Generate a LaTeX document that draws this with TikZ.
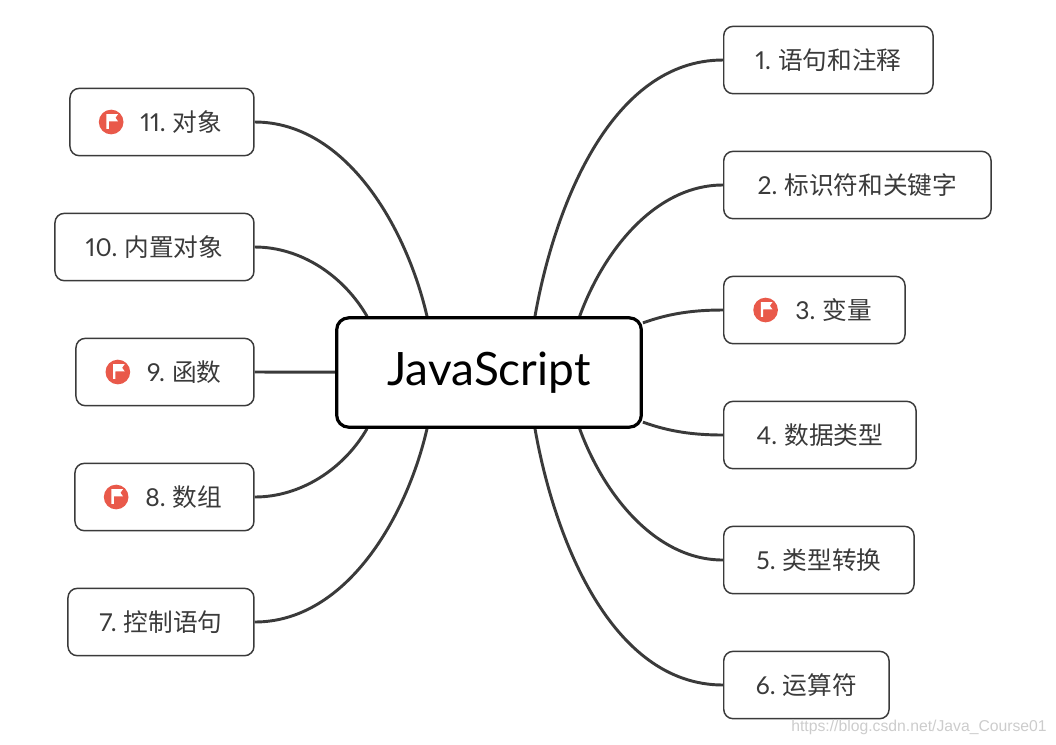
\documentclass[tikz,border=0pt]{standalone}
\usepackage{fontspec}
\setmainfont[Numbers={Proportional,Lining}]{Lato}
\newfontfamily\cjk{Noto Sans CJK SC}
\newfontfamily\urlfont{Liberation Sans}
\usetikzlibrary{positioning, backgrounds}
\definecolor{linegray}{HTML}{3A3A3A}
\definecolor{flagred}{HTML}{E9594A}
\newcommand{\topictext}[2]{#1.\hspace{5.4pt}{\cjk #2}}
\tikzset{
  root/.style={
    rectangle,
    rounded corners=9pt,
    draw=black,
    line width=2.4pt,
    fill=white,
    minimum width=228.5pt,
    minimum height=82pt,
    inner sep=0pt,
    font=\fontsize{34.5}{38}\selectfont
  },
  topic/.style={
    rectangle,
    rounded corners=7pt,
    draw=linegray,
    line width=1.1pt,
    fill=white,
    text=linegray,
    minimum height=50.5pt,
    inner sep=0pt,
    font=\fontsize{18.5}{22}\selectfont
  },
  flagicon/.style={
    circle,
    fill=flagred,
    minimum size=18.5pt,
    inner sep=0pt,
    path picture={
      \fill[white] ([xshift=-3.6pt,yshift=6pt]path picture bounding box.center)
        -- ++(8.8pt,0) -- ++(-2pt,-2.8pt) -- ++(2pt,-2.8pt) -- ++(-7pt,0)
        -- ++(0,-5.6pt) -- ++(-1.8pt,0) -- cycle;
    }
  },
  branch/.style={draw=linegray, line width=2.2pt}
}

\begin{document}
\begin{tikzpicture}[x=0.75pt, y=-0.75pt, node distance=42.15pt]
  \useasboundingbox (0,0) rectangle (1056,744);

  \node[root] (js) at (489,372.5) {\raisebox{-2.6pt}{JavaScript}};

  \node[topic, anchor=west, minimum width=157pt] (n1) at (723,60) {\topictext{1}{语句和注释}};
  \node[topic, below=of n1.south west, anchor=north west, minimum width=200.5pt] (n2) {\topictext{2}{标识符和关键字}};
  \node[topic, below=of n2.south west, anchor=north west, minimum width=136pt] (n3) {\hspace*{29pt}\topictext{3}{变量}};
  \node[topic, below=of n3.south west, anchor=north west, minimum width=144.25pt] (n4) {\topictext{4}{数据类型}};
  \node[topic, below=of n4.south west, anchor=north west, minimum width=142.75pt] (n5) {\topictext{5}{类型转换}};
  \node[topic, below=of n5.south west, anchor=north west, minimum width=124pt] (n6) {\topictext{6}{运算符}};

  \node[topic, anchor=east, minimum width=138pt] (n11) at (254.7,122) {\hspace*{29pt}\topictext{11}{对象}};
  \node[topic, below=of n11.south east, anchor=north east, minimum width=149.25pt] (n10) {\topictext{10}{内置对象}};
  \node[topic, below=of n10.south east, anchor=north east, minimum width=133.5pt] (n9) {\hspace*{29pt}\topictext{9}{函数}};
  \node[topic, below=of n9.south east, anchor=north east, minimum width=134.25pt] (n8) {\hspace*{29pt}\topictext{8}{数组}};
  \node[topic, below=of n8.south east, anchor=north east, minimum width=139.5pt] (n7) {\topictext{7}{控制语句}};

  \node[flagicon, right=22.5pt of n3.west] (f3) {};
  \node[flagicon, right=22.5pt of n9.west] (f9) {};
  \node[flagicon, right=22pt of n8.west] (f8) {};
  \node[flagicon, right=22pt of n11.west] (f11) {};

  \node[font=\urlfont\fontsize{11.8}{13}\selectfont, text=black!20, anchor=east, inner sep=0pt] (url) at (1047,727) {https://blog.csdn.net/Java\_Course01};

  \coordinate (tr1) at ([xshift=34.5pt]js.north);
  \coordinate (tr2) at ([xshift=68pt]js.north);
  \coordinate (tr3) at ([yshift=-5pt]js.north east);
  \coordinate (br1) at ([xshift=34.5pt]js.south);
  \coordinate (br2) at ([xshift=68pt]js.south);
  \coordinate (br3) at ([yshift=5pt]js.south east);
  \coordinate (tl1) at ([xshift=-46.5pt]js.north);
  \coordinate (tl2) at ([xshift=-91.5pt]js.north);
  \coordinate (bl1) at ([xshift=-46.5pt]js.south);
  \coordinate (bl2) at ([xshift=-91.5pt]js.south);

  \begin{scope}[on background layer]
    \draw[branch] (tr1) to[out=80, in=180, looseness=0.9] (n1.west);
    \draw[branch] (tr2) to[out=70, in=180, looseness=0.9] (n2.west);
    \draw[branch] (tr3) to[out=20, in=180, looseness=0.9] (n3.west);
    \draw[branch] (br3) to[out=-20, in=180, looseness=0.9] (n4.west);
    \draw[branch] (br2) to[out=-70, in=180, looseness=0.9] (n5.west);
    \draw[branch] (br1) to[out=-80, in=180, looseness=0.9] (n6.west);
    \draw[branch] (tl1) to[out=103, in=0, looseness=0.9] (n11.east);
    \draw[branch] (tl2) to[out=120, in=0, looseness=0.9] (n10.east);
    \draw[branch] (js.center) -- (n9.east);
    \draw[branch] (bl2) to[out=-120, in=0, looseness=0.9] (n8.east);
    \draw[branch] (bl1) to[out=-103, in=0, looseness=0.9] (n7.east);
  \end{scope}
\end{tikzpicture}
\end{document}
